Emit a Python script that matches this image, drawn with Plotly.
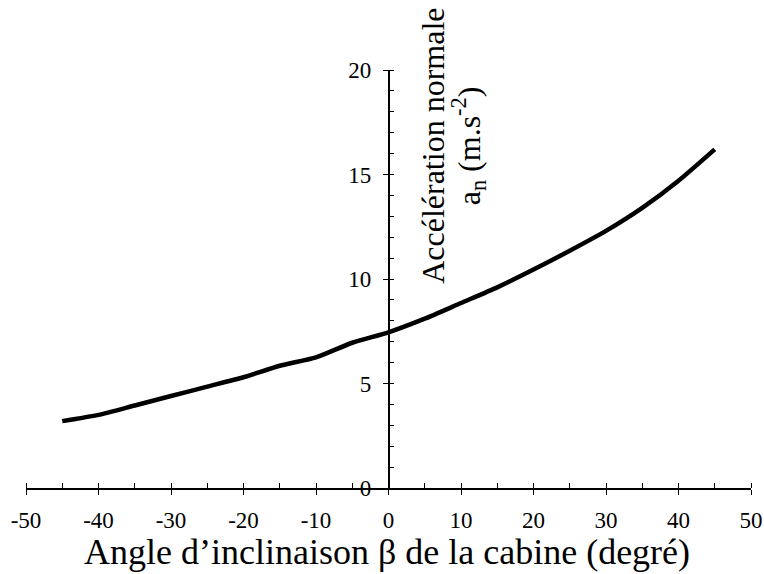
import plotly.graph_objects as go

angle_deg = [-45, -40, -35, -30, -25, -20, -15, -10, -5, 0, 5, 10, 15, 20, 25, 30, 35, 40, 45]
accel_normale = [3.2, 3.5, 3.95, 4.4, 4.85, 5.3, 5.85, 6.25, 6.95, 7.45, 8.1, 8.85, 9.6, 10.45, 11.35, 12.3, 13.4, 14.7, 16.2]

x_ticks = [-50, -40, -30, -20, -10, 0, 10, 20, 30, 40, 50]
y_ticks = [0, 5, 10, 15, 20]

FONT = "Liberation Serif, Times New Roman, serif"

fig = go.Figure()
fig.add_trace(go.Scatter(
    x=angle_deg, y=accel_normale, mode="lines",
    line=dict(color="black", width=4.5, shape="spline", smoothing=0.6),
    showlegend=False,
))

fig.update_layout(
    width=764, height=574,
    margin=dict(l=26, r=13, t=70, b=86),
    paper_bgcolor="white", plot_bgcolor="white",
    font=dict(family=FONT, color="black"),
    xaxis=dict(
        range=[-50, 50], domain=[0, 1], automargin=False,
        tickvals=x_ticks, ticktext=[str(v) for v in x_ticks],
        ticks="outside", ticklen=5, tickwidth=1.2, tickcolor="black",
        minor=dict(ticks="inside", dtick=5, tick0=0, ticklen=5, tickwidth=1.2, tickcolor="black", showgrid=False),
        showline=True, linecolor="black", linewidth=1.5,
        showgrid=False, zeroline=False,
        tickfont=dict(family=FONT, size=23, color="black"),
        ticklabelstandoff=6,
    ),
    yaxis=dict(
        range=[0, 20], anchor="free", position=0.5, automargin=False,
        tickvals=y_ticks, ticktext=[str(v) for v in y_ticks],
        ticks="outside", ticklen=5, tickwidth=1.2, tickcolor="black",
        minor=dict(ticks="inside", dtick=1, tick0=0, ticklen=5, tickwidth=1.2, tickcolor="black", showgrid=False),
        showline=True, linecolor="black", linewidth=1.5,
        showgrid=False, zeroline=False,
        tickfont=dict(family=FONT, size=23, color="black"),
        ticklabelstandoff=7,
    ),
    annotations=[
        dict(text="Angle d\u2019inclinaison \u03b2 de la cabine (degré)",
             xref="paper", yref="paper", x=0.498, y=-0.152,
             xanchor="center", yanchor="middle", showarrow=False,
             font=dict(family=FONT, size=36, color="black")),
        dict(text="Accélération normale",
             xref="paper", yref="paper", x=0.561, y=0.818,
             xanchor="center", yanchor="middle", showarrow=False, textangle=-90,
             font=dict(family=FONT, size=32, color="black")),
        dict(text="a<sub>n</sub> (m.s<sup>-2</sup>)",
             xref="paper", yref="paper", x=0.610, y=0.818,
             xanchor="center", yanchor="middle", showarrow=False, textangle=-90,
             font=dict(family=FONT, size=32, color="black")),
    ],
)

fig.write_html(
    "out.html",
    config={"displayModeBar": False},
    post_script="document.body.style.margin='0';document.body.style.overflow='hidden';",
)
